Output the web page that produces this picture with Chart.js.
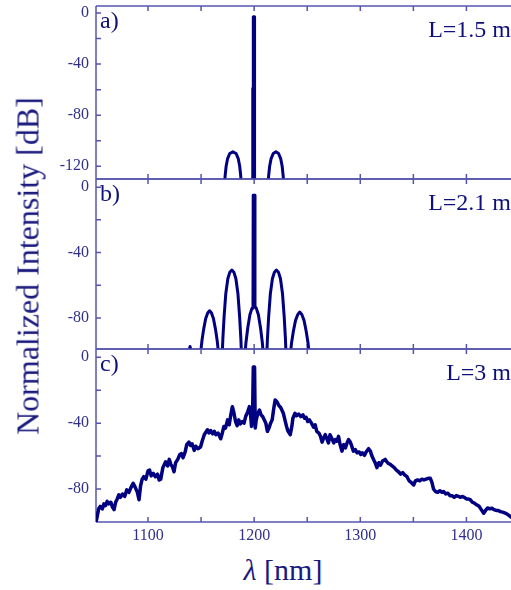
<!DOCTYPE html>
<html>
<head>
<meta charset="utf-8">
<script src="https://cdn.jsdelivr.net/npm/chart.js@4.4.1/dist/chart.umd.min.js"></script>
<style>
  body { margin:0; background:#fff; width:511px; height:590px; overflow:hidden; position:relative; font-family:"Liberation Serif", serif; }
  canvas { position:absolute; left:0; }
  #ytitle { position:absolute; left:28px; top:266px; transform:translate(-50%,-50%) rotate(-90deg); white-space:nowrap; font-size:32px; color:#1a1a7e; }
  #xtitle { position:absolute; left:283px; top:570px; transform:translate(-50%,-50%); white-space:nowrap; font-size:30px; color:#1a1a7e; }
</style>
</head>
<body>
<canvas id="panelA" width="511" height="190" style="top:0px"></canvas>
<canvas id="panelB" width="511" height="190" style="top:170px"></canvas>
<canvas id="panelC" width="511" height="210" style="top:340px"></canvas>
<div id="ytitle">Normalized Intensity [dB]</div>
<div id="xtitle"><i>λ</i> [nm]</div>
<script>
// shared x axis
const xRange = [1051, 1442];
const xLabels = [1100, 1200, 1300, 1400];
const xTickMarks = [1100, 1150, 1200, 1250, 1300, 1350, 1400];

// a) L=1.5 m
const aWavelength = [1051, 1171.5, 1172.6, 1173.6, 1175, 1177, 1180, 1183, 1185, 1186.4, 1187.4, 1188.5,
  1198.7, 1198.7, 1199.2, 1199.2, 1200.4, 1200.4,
  1212.5, 1213.6, 1214.6, 1216, 1218, 1220.5, 1223, 1225, 1226.4, 1227.4, 1228.5, 1442];
const aIntensity = [-150, -150, -128, -120, -114, -110, -108.7, -110, -114, -120, -128, -150,
  -150, -59, -59, -3, -3, -150,
  -150, -128, -120, -114, -110, -108.7, -110, -114, -120, -128, -150, -150];
const aRange = [-130, 5.5];
const aLabels = [0, -40, -80, -120];
const aTickMarks = [0, -20, -40, -60, -80, -100, -120];

// b) L=2.1 m
const bWavelength = [1051, 1137, 1139.6, 1142,
  1148.8, 1149.8, 1150.8, 1152.4, 1154.3, 1156.2, 1158, 1159.8, 1161.7, 1163.6, 1165.2, 1166.2, 1167.2,
  1169.5, 1170.5, 1171.7, 1173.3, 1175.2, 1177.1, 1179, 1180.9, 1182.8, 1184.7, 1186.3, 1187.5, 1188.5,
  1190, 1191, 1192.3, 1194, 1196, 1198, 1198.9, 1199.1, 1200.6, 1200.8, 1202, 1204, 1206, 1207.7, 1209, 1210,
  1211.5, 1212.5, 1213.7, 1215.3, 1217.2, 1219.1, 1221, 1222.9, 1224.8, 1226.7, 1228.3, 1229.5, 1230.5,
  1233.3, 1234.3, 1235.3, 1237, 1239, 1241, 1243, 1245, 1247, 1249, 1250.7, 1251.7, 1252.7, 1442];
const bIntensity = [-150, -104, -97.5, -104,
  -115, -100, -94, -87, -80.5, -77, -75.6, -77, -80.5, -87, -94, -100, -115,
  -110, -93, -79, -65, -56, -52, -50.7, -52, -56, -65, -79, -93, -110,
  -120, -105, -95, -86, -78, -74, -73, -5, -5, -73, -74, -78, -86, -95, -105, -120,
  -110, -93, -79, -65, -56, -52, -50.7, -52, -56, -65, -79, -93, -110,
  -115, -101, -95, -88, -81.5, -78, -76.4, -78, -81.5, -88, -95, -101, -115, -150];
const bRange = [-99, 5];
const bLabels = [0, -40, -80];
const bTickMarks = [0, -20, -40, -60, -80];

// c) L=3 m
const cWavelength = [1051, 1052, 1053.5, 1055, 1057, 1058.5, 1060, 1061.5, 1063, 1065, 1066.5, 1068, 1069.5,
  1071, 1072.5, 1074, 1076, 1078, 1080, 1082, 1084, 1086, 1088, 1090, 1091.5, 1093, 1094.5, 1096, 1098,
  1100, 1101.5, 1103, 1105, 1107, 1109, 1110.5, 1112, 1114, 1116.5, 1118.5, 1120, 1121.5, 1123, 1124.5,
  1126, 1128, 1130, 1131.5, 1133, 1135, 1136.5, 1138.5, 1140, 1141.5, 1143.5, 1145, 1147, 1149.5,
  1151, 1153, 1154.5, 1156, 1157.5, 1159, 1161, 1162.5, 1164, 1166, 1168.5, 1170, 1171.5, 1173, 1175,
  1176.5, 1178, 1179.5, 1181, 1182.5, 1184, 1185.5, 1187, 1189, 1190.5, 1192, 1194, 1195.5, 1196.8,
  1197.5, 1198.5, 1199.2, 1200.4, 1201, 1202, 1203.5, 1205, 1206.5, 1208, 1209.5, 1211, 1212.5, 1214,
  1215.5, 1217, 1218.5, 1219.8, 1221.5, 1223, 1225, 1227.5, 1229, 1230.5, 1232, 1234, 1235.5, 1236.5,
  1238.5, 1240, 1242, 1244, 1246, 1247.5, 1249, 1250.5, 1252, 1254, 1256, 1257.5, 1259, 1261, 1262.5,
  1264, 1265.5, 1267, 1268.5, 1270, 1271.5, 1273, 1275, 1276.5, 1278, 1279.5, 1281, 1282.7, 1284.5,
  1286, 1287.5, 1289, 1290.6, 1292, 1293.5, 1295.3, 1297, 1299, 1300.5, 1302, 1304, 1305.5, 1307.8,
  1309.5, 1311, 1312.5, 1314, 1315.7, 1317.5, 1319, 1321, 1323.5, 1325, 1326.5, 1328.3, 1330, 1332,
  1334, 1336, 1338, 1340, 1342, 1344, 1346, 1348, 1350.3, 1352, 1354, 1356, 1358, 1360, 1362, 1364,
  1366, 1367.5, 1369, 1370.8, 1373, 1375, 1377, 1378.6, 1380.5, 1382.5, 1384.5, 1386.5, 1388.5, 1390.5,
  1392.5, 1394.5, 1396, 1398, 1400, 1402, 1403.8, 1405.5, 1407.5, 1410, 1412, 1414, 1416.3, 1418, 1420,
  1422, 1424, 1426, 1428, 1430, 1432, 1434, 1436, 1438, 1440, 1442];
const cIntensity = [-100, -97, -92, -90.5, -92, -89, -90, -87.5, -89, -88, -91, -92.5, -88,
  -86, -83.5, -85, -83, -84.5, -80.5, -82, -79, -76.5, -79, -82, -86.5, -78, -74, -72.5, -74,
  -69, -68.5, -72, -70.5, -72.5, -71, -74.5, -74, -67, -63.5, -66, -62, -65, -66.5, -69.5,
  -64, -62, -59, -58.5, -61, -57.5, -53, -51.5, -53.5, -52.5, -56.5, -54, -55.5, -54.5,
  -51, -47, -45.5, -44, -46, -44.5, -46.5, -45, -47, -46, -49.5, -46, -42, -43, -38,
  -41, -35, -30, -34, -39, -41.5, -38, -40.5, -39, -40, -36, -33, -30, -36,
  -42, -36, -6, -6, -43, -38, -34, -32, -35, -36, -38, -40, -45, -43,
  -40, -38, -31, -26, -27, -29, -30.5, -34, -38, -42, -45, -47, -42, -37,
  -34, -35.5, -34.5, -36, -35, -37, -36.5, -39, -38, -40, -42.5, -41, -45, -46, -48,
  -51.5, -49, -47, -49.5, -52, -47, -49, -52, -50, -51, -48, -53, -57, -53,
  -55, -52, -50, -51.5, -54, -57, -56, -58, -57.5, -59, -58, -59.5, -57.5, -55.5,
  -57, -60, -62, -64, -67, -64, -65.5, -63, -62, -63.5, -64.5, -65, -66, -67,
  -68.5, -69.5, -71, -70, -71.5, -72.5, -75, -76, -77.5, -75, -74.5, -75, -74, -74.5, -74, -73.5,
  -73.5, -76, -80, -81.5, -82, -81, -82, -81.5, -83, -82.5, -84, -84, -85, -84,
  -84.5, -85, -84.5, -85, -86, -86, -86.6, -88, -88.5, -89.7, -90.5, -92.5, -94.7, -93, -91.5,
  -92, -91.7, -92.5, -93, -93, -93.7, -94, -94.5, -95, -96, -97];
const cRange = [-100, 5];
const cLabels = [0, -40, -80];
const cTickMarks = [0, -20, -40, -60, -80];

const lineColor = '#000080';
const axisColor = '#5555ad';
const tickColor = '#30308c';
const textColor = '#10107a';
const serif = '"Liberation Serif", "Times New Roman", serif';

function frame(yMarks, letter, lengthText) {
  return {
    id: 'frame',
    beforeDatasetsDraw(chart) {
      const ctx = chart.ctx, a = chart.chartArea;
      const xs = chart.scales.x, ys = chart.scales.y;
      ctx.save();
      ctx.strokeStyle = axisColor;
      ctx.lineWidth = 1.5;
      ctx.beginPath();
      ctx.moveTo(a.left, a.top); ctx.lineTo(a.right, a.top);
      ctx.moveTo(a.left, a.bottom); ctx.lineTo(a.right, a.bottom);
      ctx.moveTo(a.left, a.top); ctx.lineTo(a.left, a.bottom);
      xTickMarks.forEach(function(v) {
        const x = xs.getPixelForValue(v);
        ctx.moveTo(x, a.bottom); ctx.lineTo(x, a.bottom - 5);
        ctx.moveTo(x, a.top); ctx.lineTo(x, a.top + 5);
      });
      yMarks.forEach(function(v) {
        const y = ys.getPixelForValue(v);
        ctx.moveTo(a.left, y); ctx.lineTo(a.left + 5, y);
      });
      ctx.stroke();
      ctx.fillStyle = textColor;
      ctx.textBaseline = 'top';
      ctx.font = '24px ' + serif;
      ctx.textAlign = 'left';
      ctx.fillText(letter, a.left + 4, a.top + 4);
      ctx.textAlign = 'right';
      ctx.fillText(lengthText, a.right, a.top + 13);
      ctx.restore();
    }
  };
}

function makePanel(id, xs, ys, yRange, yLabels, yMarks, letter, lengthText, showX, width, pad) {
  const points = xs.map(function(x, i) { return {x: x, y: ys[i]}; });
  return new Chart(document.getElementById(id), {
    type: 'line',
    data: {
      datasets: [{
        data: points,
        borderColor: lineColor,
        borderWidth: width,
        borderJoinStyle: 'round',
        borderCapStyle: 'round',
        pointRadius: 0,
        fill: false,
        tension: 0
      }]
    },
    options: {
      responsive: false,
      animation: false,
      events: [],
      layout: { padding: { left: 0, right: 0, top: pad[0], bottom: pad[1] } },
      plugins: { legend: { display: false }, tooltip: { enabled: false } },
      scales: {
        x: {
          type: 'linear',
          min: xRange[0], max: xRange[1],
          display: showX,
          grid: { display: false, drawTicks: false },
          border: { display: false },
          afterBuildTicks: function(scale) { scale.ticks = xLabels.map(function(v) { return {value: v}; }); },
          afterFit: function(scale) {
            if (showX) scale.height = 28;
            scale.paddingLeft = 0; scale.paddingRight = 0;
          },
          ticks: {
            color: tickColor, padding: 4, maxRotation: 0,
            font: { family: serif, size: 16 },
            callback: function(v) { return String(v); }
          }
        },
        y: {
          min: yRange[0], max: yRange[1],
          grid: { display: false, drawTicks: false },
          border: { display: false },
          afterBuildTicks: function(scale) { scale.ticks = yLabels.map(function(v) { return {value: v}; }); },
          afterFit: function(scale) {
            scale.width = 96;
            scale.paddingTop = 0; scale.paddingBottom = 0;
          },
          ticks: {
            color: tickColor, padding: 7,
            font: { family: serif, size: 16 },
            callback: function(v) { return String(v); }
          }
        }
      }
    },
    plugins: [frame(yMarks, letter, lengthText)]
  });
}

makePanel('panelA', aWavelength, aIntensity, aRange, aLabels, aTickMarks, 'a)', 'L=1.5 m', false, 3, [6, 11]);
makePanel('panelB', bWavelength, bIntensity, bRange, bLabels, bTickMarks, 'b)', 'L=2.1 m', false, 3, [9, 11]);
makePanel('panelC', cWavelength, cIntensity, cRange, cLabels, cTickMarks, 'c)', 'L=3 m', true, 3.5, [9, 0]);
</script>
</body>
</html>
